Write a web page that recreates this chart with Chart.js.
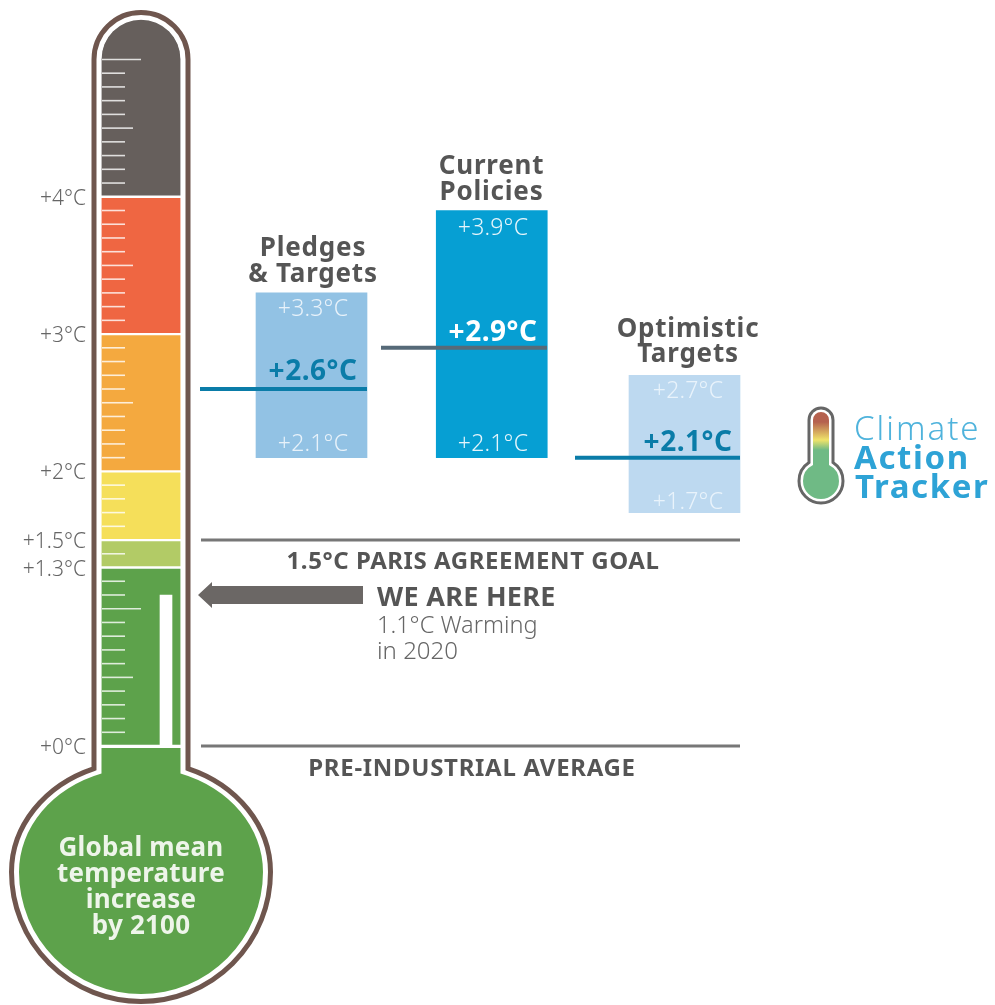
<!DOCTYPE html>
<html>
<head>
<meta charset="utf-8">
<title>Global mean temperature increase by 2100</title>
<script src="https://cdn.jsdelivr.net/npm/chart.js@4"></script>
<style>
  html, body { margin: 0; padding: 0; background: #fff; }
  canvas { display: block; }
</style>
</head>
<body>
<canvas id="thermo" width="995" height="1005"></canvas>
<script>
// Data
var axisTicks = [0, 1.3, 1.5, 2, 3, 4];
var bandLow = [0, 1.3, 1.5, 2, 3, 4];
var bandHigh = [1.3, 1.5, 2, 3, 4, 5.29];
var warmingNow = 1.1;
var scenarioTitles = [["Pledges", "& Targets"], ["Current", "Policies"], ["Optimistic", "Targets"]];
var scenarioLow = [2.1, 2.1, 1.7];
var scenarioMean = [2.6, 2.9, 2.1];
var scenarioHigh = [3.3, 3.9, 2.7];
var shortMarks = [0.1, 0.2, 0.3, 0.4, 0.6, 0.7, 0.8, 0.9, 1.1, 1.2, 1.4, 1.6, 1.7, 1.8, 1.9, 2.1, 2.2, 2.3, 2.4, 2.6, 2.7, 2.8, 2.9, 3.1, 3.2, 3.3, 3.4, 3.6, 3.7, 3.8, 3.9, 4.1, 4.2, 4.3, 4.4, 4.6, 4.7, 4.8, 4.9];
var midMarks = [0.5, 2.5, 3.5, 4.5];
var longMarks = [1, 5];
var goalLevel = 1.5;
var baseLevel = 0;

// Layout, in page pixels (the x scale runs in pixels)
var FONT = '"Noto Sans", sans-serif';
var tubeX = 141, nowX = 166;
var scenarioX = [311.5, 491.75, 684.5];
var scenarioTextX = [313, 493, 688];
var titleX = [313, 491.5, 688];
var meanStart = [200, 381, 575];
var meanEnd = [367, 547, 740];
var refStart = 201, refEnd = 740;

var bandColors = ["#5da24b", "#b2cb66", "#f5df5a", "#f4a93f", "#ef6642", "#665f5c"];
var scenarioColors = ["#92c2e4", "#069fd3", "#bdd9f0"];
var meanColors = ["#0a7ca8", "#566a78", "#0a7ca8"];
var meanTextColors = ["#0a7ca8", "#ffffff", "#0a7ca8"];
var scenarioTextColors = ["#e8f2fa", "#e6f5fb", "#e9f3fb"];

function fmt(v) { return "+" + v.toFixed(1) + "°C"; }

function label(ctx, text, x, y, font, color, align, spacing) {
    ctx.font = font;
    ctx.letterSpacing = (spacing || 0) + "px";
    ctx.fillStyle = color;
    ctx.textAlign = align || "center";
    ctx.textBaseline = "middle";
    // Noto sits a little high against the reference
    ctx.fillText(text, x, y + 2);
}

function bulbPath(ctx, cx, cy, rx, ry, halfNeck, neckTop, tubeTop, radius) {
    var t = Math.acos(halfNeck / rx);
    ctx.beginPath();
    if (radius) {
        ctx.moveTo(cx - halfNeck, tubeTop + radius);
        ctx.arc(cx, tubeTop + radius, radius, Math.PI, 0);
    } else {
        ctx.moveTo(cx - halfNeck, neckTop);
        ctx.lineTo(cx + halfNeck, neckTop);
    }
    ctx.ellipse(cx, cy, rx, ry, 0, -t, 0);
    ctx.ellipse(cx, cy, rx, rx, 0, 0, Math.PI);
    ctx.ellipse(cx, cy, rx, ry, 0, Math.PI, Math.PI + t);
    ctx.closePath();
}

// Thermometer body behind the bands
var bodyPlugin = {
    id: "body",
    beforeDatasetsDraw: function (chart) {
        var ctx = chart.ctx;
        ctx.save();
        bulbPath(ctx, tubeX, 872, 129.5, 111, 47, 0, 12.5, 47);
        ctx.fillStyle = "#ffffff";
        ctx.fill();
        ctx.lineWidth = 5;
        ctx.strokeStyle = "#6f564e";
        ctx.stroke();
        bulbPath(ctx, tubeX, 872, 122, 104, 39.5, 748);
        ctx.fillStyle = bandColors[0];
        ctx.fill();
        ctx.restore();
    }
};

// Marks and all the text on top
var overlayPlugin = {
    id: "overlay",
    afterDatasetsDraw: function (chart) {
        var ctx = chart.ctx, y = chart.scales.y;
        ctx.save();

        // scale marks in the tube
        ctx.strokeStyle = "rgba(255,255,255,0.8)";
        ctx.lineWidth = 1.6;
        function marks(list, end) {
            list.forEach(function (v) {
                var p = y.getPixelForValue(v);
                ctx.beginPath();
                ctx.moveTo(102, p);
                ctx.lineTo(end, p);
                ctx.stroke();
            });
        }
        marks(shortMarks, 125);
        marks(midMarks, 133);
        marks(longMarks, 141);

        // arrow
        var a = y.getPixelForValue(warmingNow);
        ctx.fillStyle = "#6b6765";
        ctx.beginPath();
        ctx.moveTo(198, a);
        ctx.lineTo(212, a - 13);
        ctx.lineTo(212, a - 9);
        ctx.lineTo(363, a - 9);
        ctx.lineTo(363, a + 9);
        ctx.lineTo(212, a + 9);
        ctx.lineTo(212, a + 13);
        ctx.closePath();
        ctx.fill();

        // scenario text
        var titleY = [[247, 273], [165, 191], [328, 353]];
        var highY = [307, 226, 389];
        var meanY = [370, 331, 441];
        var lowY = [442, 442, 500];
        scenarioTitles.forEach(function (lines, i) {
            var tx = scenarioTextX[i];
            label(ctx, lines[0], titleX[i], titleY[i][0], "bold 26px " + FONT, "#555555", "center", 0.8);
            label(ctx, lines[1], titleX[i], titleY[i][1], "bold 26px " + FONT, "#555555", "center", 0.8);
            label(ctx, fmt(scenarioHigh[i]), tx, highY[i], "300 23px " + FONT, scenarioTextColors[i], "center", 0.2);
            label(ctx, fmt(scenarioMean[i]), tx, meanY[i], "bold 28px " + FONT, meanTextColors[i], "center", 0.5);
            label(ctx, fmt(scenarioLow[i]), tx, lowY[i], "300 23px " + FONT, scenarioTextColors[i], "center", 0.2);
        });

        // reference text
        label(ctx, "1.5°C PARIS AGREEMENT GOAL", 473, 560, "bold 24px " + FONT, "#555555", "center", 0.55);
        label(ctx, "PRE-INDUSTRIAL AVERAGE", 472, 767, "bold 24px " + FONT, "#555555", "center", 0.7);
        label(ctx, "WE ARE HERE", 377, 596, "bold 27px " + FONT, "#555555", "left", 0.3);
        label(ctx, "1.1°C Warming", 377, 624, "300 23.5px " + FONT, "#666666", "left");
        label(ctx, "in 2020", 377, 650, "300 24px " + FONT, "#666666", "left");

        // bulb text
        var bulbLines = ["Global mean", "temperature", "increase", "by 2100"];
        bulbLines.forEach(function (s, i) {
            label(ctx, s, tubeX, 847 + i * 26, "bold 26px " + FONT, "#eef5ea", "center", 0.2);
        });

        // logo
        var lx = 821;
        var grad = ctx.createLinearGradient(0, 410, 0, 450);
        grad.addColorStop(0.3, "#b5614e");
        grad.addColorStop(0.75, "#efe36a");
        grad.addColorStop(1, "#6fba85");
        bulbPath(ctx, lx, 481, 22, 22, 12, 0, 408, 12);
        ctx.fillStyle = "#ffffff";
        ctx.fill();
        ctx.lineWidth = 3;
        ctx.strokeStyle = "#666666";
        ctx.stroke();
        bulbPath(ctx, lx, 481, 18, 18, 8, 0, 412, 8);
        ctx.fillStyle = grad;
        ctx.fill();
        label(ctx, "Climate", 854, 429, "300 33px " + FONT, "#4fb3dc", "left", 2);
        label(ctx, "Action", 854, 458, "bold 33px " + FONT, "#2ea3d6", "left", 1.6);
        label(ctx, "Tracker", 855, 487, "bold 33px " + FONT, "#2ea3d6", "left", 1.6);

        ctx.restore();
    }
};

function flatLine(x0, x1, v, color, width) {
    return {
        type: "line",
        data: [{x: x0, y: v}, {x: x1, y: v}],
        borderColor: color,
        borderWidth: width,
        pointRadius: 0,
        order: 0
    };
}

var datasets = [];

// mean lines and reference lines
scenarioMean.forEach(function (v, i) {
    datasets.push(flatLine(meanStart[i], meanEnd[i], v, meanColors[i], 4));
});
datasets.push(flatLine(refStart, refEnd, goalLevel, "#777777", 3));
datasets.push(flatLine(refStart, refEnd, baseLevel, "#777777", 3));

// the 1.1 bar inside the tube
datasets.push({
    type: "bar",
    data: [{x: nowX, y: [baseLevel, warmingNow]}],
    backgroundColor: "#ffffff",
    barThickness: 12,
    grouped: false,
    order: 1
});

// scenario ranges
scenarioLow.forEach(function (v, i) {
    datasets.push({
        type: "bar",
        data: [{x: scenarioX[i], y: [v, scenarioHigh[i]]}],
        backgroundColor: scenarioColors[i],
        barThickness: 111,
        grouped: false,
        order: 2
    });
});

// tube bands
bandLow.forEach(function (v, i) {
    datasets.push({
        type: "bar",
        data: [{x: tubeX, y: [v, bandHigh[i]]}],
        backgroundColor: bandColors[i],
        borderColor: "#ffffff",
        borderWidth: i === bandLow.length - 1 ? {top: 0, bottom: 1.5, left: 0, right: 0} : {top: 1.5, bottom: 1.5, left: 0, right: 0},
        borderSkipped: false,
        borderRadius: i === bandLow.length - 1 ? {topLeft: 39.5, topRight: 39.5, bottomLeft: 0, bottomRight: 0} : 0,
        barThickness: 79,
        grouped: false,
        order: 3
    });
});

new Chart(document.getElementById("thermo").getContext("2d"), {
    type: "bar",
    data: {datasets: datasets},
    plugins: [bodyPlugin, overlayPlugin],
    options: {
        responsive: false,
        animation: false,
        devicePixelRatio: 1,
        layout: {padding: 0},
        plugins: {legend: {display: false}, tooltip: {enabled: false}},
        scales: {
            x: {type: "linear", min: 87, max: 995, offset: false, display: false},
            y: {
                min: -1.886,
                max: 5.433,
                grid: {display: false, drawTicks: false},
                border: {display: false},
                afterFit: function (scale) {
                    scale.width = 87;
                    scale.paddingTop = 0;
                    scale.paddingBottom = 0;
                },
                afterBuildTicks: function (scale) {
                    scale.ticks = axisTicks.map(function (v) { return {value: v}; });
                },
                ticks: {
                    autoSkip: false,
                    padding: 1,
                    labelOffset: 2,
                    color: "#666666",
                    font: {family: "Noto Sans", size: 21, weight: "300"},
                    callback: function (v) { return "+" + v + "°C"; }
                }
            }
        }
    }
});
</script>
</body>
</html>
